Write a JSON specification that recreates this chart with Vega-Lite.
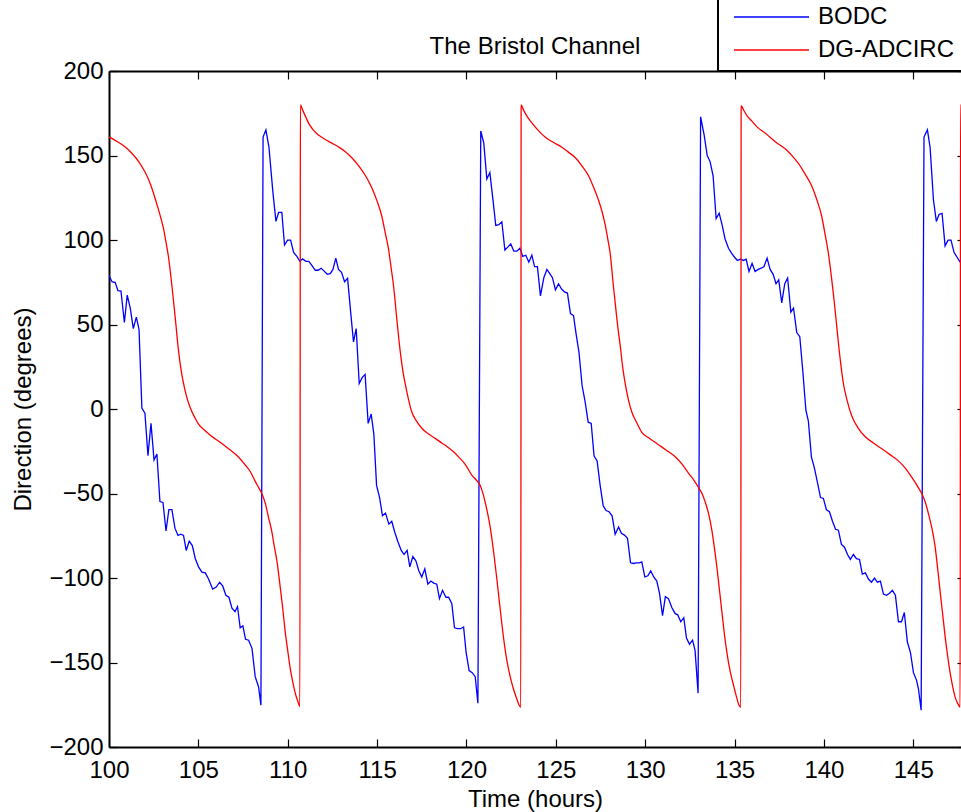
{
"$schema": "https://vega.github.io/schema/vega-lite/v6.json",
"autosize": {"type": "none"},
"padding": {"left": 109, "top": 71, "right": 0, "bottom": 65},
"width": 852,
"height": 676,
"background": "white",
"title": {"text": "The Bristol Channel", "font": "Liberation Sans", "fontSize": 24, "fontWeight": "normal", "color": "black", "anchor": "middle", "frame": "group", "baseline": "alphabetic", "offset": 17, "dy": 100},
"datasets": {
"bodc": [
{"t":100.0,"v":79},{"t":100.17,"v":75.3},{"t":100.35,"v":74.8},{"t":100.5,"v":70},{"t":100.67,"v":69.8},{"t":100.86,"v":51.2},{"t":101.02,"v":67.4},{"t":101.19,"v":59.7},{"t":101.36,"v":47.6},{"t":101.53,"v":54.4},{"t":101.68,"v":47.1},{"t":101.84,"v":0.6},{"t":102.01,"v":-2.5},{"t":102.18,"v":-27.6},{"t":102.35,"v":-8.5},{"t":102.52,"v":-30.2},{"t":102.68,"v":-26.6},{"t":102.85,"v":-54.8},{"t":103.02,"v":-55.3},{"t":103.19,"v":-72.2},{"t":103.35,"v":-59.6},{"t":103.52,"v":-59.6},{"t":103.69,"v":-70.5},{"t":103.86,"v":-74.8},{"t":104.02,"v":-74.1},{"t":104.17,"v":-74.8},{"t":104.32,"v":-83.7},{"t":104.49,"v":-78.2},{"t":104.66,"v":-80.8},{"t":104.83,"v":-88.6},{"t":105.01,"v":-93.4},{"t":105.2,"v":-96.5},{"t":105.39,"v":-97},{"t":105.57,"v":-100.6},{"t":105.8,"v":-106.6},{"t":106.0,"v":-105.4},{"t":106.19,"v":-102.5},{"t":106.36,"v":-104.7},{"t":106.54,"v":-110.2},{"t":106.71,"v":-111.4},{"t":106.88,"v":-117.9},{"t":107.05,"v":-119.9},{"t":107.19,"v":-117},{"t":107.34,"v":-129.5},{"t":107.49,"v":-128.3},{"t":107.64,"v":-136.3},{"t":107.81,"v":-136.8},{"t":108.0,"v":-141.6},{"t":108.18,"v":-158.4},{"t":108.37,"v":-164.5},{"t":108.5,"v":-175.3},
{"t":108.62,"v":160.9},{"t":108.78,"v":165.2},{"t":108.95,"v":154.9},{"t":109.17,"v":128.3},{"t":109.34,"v":111},{"t":109.49,"v":116.3},{"t":109.67,"v":116.3},{"t":109.82,"v":97},{"t":109.99,"v":99.9},{"t":110.16,"v":99.9},{"t":110.33,"v":92.7},{"t":110.51,"v":90.3},{"t":110.68,"v":87.4},{"t":110.83,"v":88.8},{"t":111.02,"v":87.4},{"t":111.18,"v":87.4},{"t":111.35,"v":85},{"t":111.54,"v":82.1},{"t":111.7,"v":82.1},{"t":111.87,"v":83.3},{"t":112.04,"v":81.6},{"t":112.21,"v":79.7},{"t":112.38,"v":80.1},{"t":112.53,"v":82.6},{"t":112.69,"v":89.3},{"t":112.84,"v":82.6},{"t":113.01,"v":80.9},{"t":113.18,"v":75.3},{"t":113.35,"v":77.3},{"t":113.51,"v":58.5},{"t":113.68,"v":39.7},{"t":113.83,"v":47.6},{"t":114.0,"v":15.1},{"t":114.17,"v":18.7},{"t":114.33,"v":20.4},{"t":114.5,"v":-8.5},{"t":114.67,"v":-3},{"t":114.82,"v":-15},{"t":114.97,"v":-45.2},{"t":115.14,"v":-52.4},{"t":115.3,"v":-63.2},{"t":115.47,"v":-61.6},{"t":115.66,"v":-68.1},{"t":115.82,"v":-66.4},{"t":115.99,"v":-72.9},{"t":116.16,"v":-78.4},{"t":116.35,"v":-83.7},{"t":116.51,"v":-86.1},{"t":116.68,"v":-83.7},{"t":116.83,"v":-93.4},{"t":117.0,"v":-87.3},{"t":117.17,"v":-89.8},{"t":117.34,"v":-95.8},{"t":117.5,"v":-99.4},{"t":117.67,"v":-94.6},{"t":117.84,"v":-103.6},{"t":118.01,"v":-101.8},{"t":118.17,"v":-103},{"t":118.34,"v":-103.7},{"t":118.49,"v":-112.2},{"t":118.66,"v":-107.3},{"t":118.85,"v":-111.4},{"t":119.0,"v":-111.4},{"t":119.18,"v":-115},{"t":119.33,"v":-129.5},{"t":119.5,"v":-130},{"t":119.67,"v":-130},{"t":119.84,"v":-129},{"t":119.98,"v":-144},{"t":120.15,"v":-154.8},{"t":120.32,"v":-156},{"t":120.49,"v":-158.4},{"t":120.64,"v":-174.1},
{"t":120.8,"v":164.5},{"t":120.97,"v":157.3},{"t":121.14,"v":136.1},{"t":121.31,"v":139.9},{"t":121.48,"v":124},{"t":121.64,"v":108.6},{"t":121.81,"v":109.1},{"t":121.98,"v":110.8},{"t":122.15,"v":94.1},{"t":122.31,"v":95.8},{"t":122.48,"v":97.7},{"t":122.65,"v":93.4},{"t":122.82,"v":93.4},{"t":122.99,"v":95.1},{"t":123.15,"v":90.3},{"t":123.32,"v":91},{"t":123.49,"v":86.9},{"t":123.66,"v":91},{"t":123.81,"v":84.2},{"t":123.97,"v":84.2},{"t":124.14,"v":66.9},{"t":124.33,"v":77.7},{"t":124.5,"v":82.6},{"t":124.66,"v":80.1},{"t":124.81,"v":77.7},{"t":124.98,"v":70.5},{"t":125.15,"v":74.1},{"t":125.32,"v":71},{"t":125.48,"v":69.3},{"t":125.65,"v":68.6},{"t":125.82,"v":56.5},{"t":125.99,"v":55.3},{"t":126.14,"v":44},{"t":126.3,"v":33.2},{"t":126.47,"v":13.9},{"t":126.64,"v":4.2},{"t":126.81,"v":-7.8},{"t":126.98,"v":-8.5},{"t":127.14,"v":-27.8},{"t":127.31,"v":-30.7},{"t":127.48,"v":-45.2},{"t":127.65,"v":-57.2},{"t":127.81,"v":-60.1},{"t":127.98,"v":-60.8},{"t":128.15,"v":-63.2},{"t":128.32,"v":-74.1},{"t":128.51,"v":-69.8},{"t":128.67,"v":-73.6},{"t":128.84,"v":-74.6},{"t":129.01,"v":-76.5},{"t":129.18,"v":-91},{"t":129.35,"v":-91.4},{"t":129.51,"v":-91},{"t":129.68,"v":-91},{"t":129.81,"v":-90.5},{"t":129.98,"v":-99.4},{"t":130.15,"v":-98.7},{"t":130.31,"v":-95.8},{"t":130.48,"v":-99.4},{"t":130.65,"v":-101.8},{"t":130.8,"v":-109},{"t":130.97,"v":-122.3},{"t":131.13,"v":-111},{"t":131.3,"v":-112.2},{"t":131.49,"v":-117.5},{"t":131.68,"v":-121.1},{"t":131.82,"v":-121.8},{"t":131.99,"v":-125.9},{"t":132.16,"v":-123.5},{"t":132.31,"v":-135.5},{"t":132.48,"v":-139.2},{"t":132.65,"v":-136.8},{"t":132.79,"v":-142.8},{"t":132.96,"v":-168.1},
{"t":133.1,"v":172.9},{"t":133.3,"v":162.1},{"t":133.47,"v":150},{"t":133.63,"v":146.4},{"t":133.8,"v":138},{"t":133.97,"v":112.7},{"t":134.14,"v":115.8},{"t":134.3,"v":109.1},{"t":134.47,"v":100.6},{"t":134.66,"v":95.1},{"t":134.83,"v":92.2},{"t":135.0,"v":89.8},{"t":135.16,"v":87.9},{"t":135.33,"v":88.6},{"t":135.5,"v":87.9},{"t":135.65,"v":88.6},{"t":135.81,"v":81.4},{"t":135.98,"v":86.2},{"t":136.15,"v":81.4},{"t":136.32,"v":82.6},{"t":136.49,"v":83.3},{"t":136.65,"v":84.3},{"t":136.82,"v":89.3},{"t":136.99,"v":82.6},{"t":137.16,"v":79.7},{"t":137.32,"v":74.1},{"t":137.47,"v":76.5},{"t":137.64,"v":62.8},{"t":137.81,"v":74.1},{"t":137.97,"v":77.5},{"t":138.15,"v":57.3},{"t":138.3,"v":59.7},{"t":138.48,"v":45.2},{"t":138.65,"v":42.8},{"t":138.82,"v":22.3},{"t":138.99,"v":-0.6},{"t":139.13,"v":-7.1},{"t":139.3,"v":-28.3},{"t":139.47,"v":-35},{"t":139.64,"v":-43.5},{"t":139.81,"v":-52.4},{"t":139.97,"v":-52.9},{"t":140.14,"v":-59.6},{"t":140.31,"v":-60.8},{"t":140.48,"v":-66.4},{"t":140.65,"v":-71.2},{"t":140.81,"v":-71.7},{"t":140.98,"v":-80.1},{"t":141.15,"v":-81.8},{"t":141.32,"v":-86.1},{"t":141.48,"v":-89},{"t":141.65,"v":-86.1},{"t":141.82,"v":-88.5},{"t":141.99,"v":-89},{"t":142.15,"v":-97.7},{"t":142.32,"v":-97},{"t":142.49,"v":-100.6},{"t":142.66,"v":-102.5},{"t":142.83,"v":-100.1},{"t":142.99,"v":-102.5},{"t":143.16,"v":-101.8},{"t":143.33,"v":-109.5},{"t":143.5,"v":-110.2},{"t":143.67,"v":-109},{"t":143.83,"v":-107.3},{"t":144.0,"v":-110.2},{"t":144.17,"v":-125.9},{"t":144.34,"v":-125.9},{"t":144.5,"v":-120.4},{"t":144.67,"v":-137.9},{"t":144.84,"v":-144},{"t":145.01,"v":-156},{"t":145.18,"v":-160.4},{"t":145.29,"v":-165.7},{"t":145.44,"v":-178.2},
{"t":145.6,"v":160.9},{"t":145.79,"v":165.2},{"t":145.94,"v":154.9},{"t":146.13,"v":123.5},{"t":146.29,"v":111},{"t":146.44,"v":115.1},{"t":146.61,"v":115.8},{"t":146.78,"v":96.5},{"t":146.95,"v":99.9},{"t":147.11,"v":99.9},{"t":147.28,"v":92.7},{"t":147.45,"v":89.8},{"t":147.62,"v":86.9}
],
"adcirc": [
{"t":100.0,"v":161},{"t":100.5,"v":158},{"t":100.91,"v":155},{"t":101.3,"v":151},{"t":101.66,"v":146.4},{"t":102.0,"v":140.5},{"t":102.22,"v":135.6},{"t":102.45,"v":129},{"t":102.68,"v":121.1},{"t":102.9,"v":113},{"t":103.05,"v":106.7},{"t":103.2,"v":98},{"t":103.33,"v":89.8},{"t":103.52,"v":72.9},{"t":103.71,"v":53.6},{"t":103.89,"v":34.4},{"t":104.05,"v":22},{"t":104.17,"v":15.1},{"t":104.35,"v":7},{"t":104.55,"v":0.6},{"t":104.8,"v":-5},{"t":105.01,"v":-9},{"t":105.4,"v":-13},{"t":105.76,"v":-16.3},{"t":106.2,"v":-19.5},{"t":106.69,"v":-23.5},{"t":107.2,"v":-28},{"t":107.62,"v":-33.1},{"t":107.9,"v":-37},{"t":108.18,"v":-42.8},{"t":108.4,"v":-47},{"t":108.55,"v":-50},{"t":108.75,"v":-56},{"t":108.93,"v":-64.4},{"t":109.1,"v":-72},{"t":109.21,"v":-78.9},{"t":109.41,"v":-91},{"t":109.58,"v":-105.4},{"t":109.72,"v":-118},{"t":109.86,"v":-131.9},{"t":110.0,"v":-143},{"t":110.14,"v":-153.6},{"t":110.28,"v":-161.5},{"t":110.42,"v":-168.1},{"t":110.55,"v":-172.5},{"t":110.68,"v":-176},
{"t":110.71,"v":180},{"t":110.83,"v":177},{"t":111.0,"v":173},{"t":111.16,"v":169.3},{"t":111.4,"v":165.5},{"t":111.72,"v":162.1},{"t":112.1,"v":159.5},{"t":112.47,"v":157.3},{"t":112.85,"v":155},{"t":113.21,"v":152.4},{"t":113.6,"v":148.5},{"t":113.96,"v":144},{"t":114.35,"v":138},{"t":114.71,"v":130.8},{"t":115.0,"v":123},{"t":115.27,"v":113.9},{"t":115.46,"v":104},{"t":115.64,"v":94.6},{"t":115.78,"v":84},{"t":115.92,"v":72.9},{"t":116.1,"v":53.6},{"t":116.29,"v":34.4},{"t":116.45,"v":22},{"t":116.57,"v":15.1},{"t":116.75,"v":6},{"t":116.94,"v":-1.8},{"t":117.2,"v":-7},{"t":117.5,"v":-11.4},{"t":117.9,"v":-15},{"t":118.25,"v":-17.4},{"t":118.6,"v":-20},{"t":118.92,"v":-22.3},{"t":119.25,"v":-25},{"t":119.56,"v":-28.3},{"t":119.95,"v":-33},{"t":120.3,"v":-39.1},{"t":120.55,"v":-42},{"t":120.77,"v":-45.2},{"t":120.95,"v":-51},{"t":121.14,"v":-59.6},{"t":121.28,"v":-67},{"t":121.42,"v":-76.5},{"t":121.56,"v":-88},{"t":121.7,"v":-100.6},{"t":121.84,"v":-114},{"t":121.98,"v":-127.1},{"t":122.12,"v":-139},{"t":122.26,"v":-148.8},{"t":122.45,"v":-158.5},{"t":122.63,"v":-165.7},{"t":122.8,"v":-171},{"t":122.95,"v":-175.3},{"t":123.04,"v":-176.5},
{"t":123.06,"v":180},{"t":123.19,"v":177},{"t":123.4,"v":173},{"t":123.66,"v":169.3},{"t":124.0,"v":165},{"t":124.4,"v":160.9},{"t":124.85,"v":157.8},{"t":125.34,"v":154.9},{"t":125.7,"v":152},{"t":126.08,"v":148.8},{"t":126.45,"v":144},{"t":126.83,"v":138},{"t":127.1,"v":131.5},{"t":127.39,"v":123.5},{"t":127.58,"v":117},{"t":127.76,"v":109.1},{"t":127.9,"v":101},{"t":128.04,"v":92.2},{"t":128.13,"v":83},{"t":128.22,"v":72.9},{"t":128.32,"v":63},{"t":128.43,"v":52},{"t":128.62,"v":36},{"t":128.75,"v":24},{"t":128.88,"v":15.1},{"t":129.05,"v":6},{"t":129.25,"v":-1.8},{"t":129.5,"v":-7.5},{"t":129.81,"v":-13.8},{"t":130.25,"v":-17.5},{"t":130.74,"v":-21.1},{"t":131.2,"v":-24.5},{"t":131.68,"v":-28.3},{"t":132.05,"v":-32.5},{"t":132.42,"v":-37.9},{"t":132.75,"v":-42.5},{"t":132.98,"v":-46.4},{"t":133.18,"v":-50},{"t":133.35,"v":-54.8},{"t":133.55,"v":-62},{"t":133.73,"v":-71.7},{"t":133.87,"v":-82},{"t":134.01,"v":-93.4},{"t":134.15,"v":-106.5},{"t":134.29,"v":-119.9},{"t":134.43,"v":-133},{"t":134.57,"v":-144},{"t":134.75,"v":-155},{"t":134.94,"v":-163.3},{"t":135.1,"v":-170},{"t":135.25,"v":-175.3},{"t":135.35,"v":-176.5},
{"t":135.37,"v":179.5},{"t":135.5,"v":177},{"t":135.7,"v":173.5},{"t":135.96,"v":170.5},{"t":136.3,"v":166.5},{"t":136.71,"v":163.3},{"t":137.3,"v":158},{"t":137.94,"v":153},{"t":138.25,"v":149.5},{"t":138.58,"v":145.2},{"t":138.95,"v":139},{"t":139.32,"v":132},{"t":139.6,"v":124},{"t":139.88,"v":113.9},{"t":140.07,"v":103},{"t":140.25,"v":92.2},{"t":140.4,"v":80},{"t":140.53,"v":68.1},{"t":140.67,"v":54},{"t":140.81,"v":39.2},{"t":140.95,"v":26},{"t":141.09,"v":15.1},{"t":141.3,"v":5},{"t":141.56,"v":-4.2},{"t":141.9,"v":-11},{"t":142.3,"v":-16.3},{"t":142.75,"v":-20},{"t":143.24,"v":-23.5},{"t":143.7,"v":-27},{"t":144.17,"v":-30.7},{"t":144.55,"v":-35},{"t":144.91,"v":-40.3},{"t":145.2,"v":-45},{"t":145.47,"v":-50},{"t":145.67,"v":-55},{"t":145.85,"v":-62},{"t":146.05,"v":-71},{"t":146.22,"v":-81.3},{"t":146.36,"v":-94},{"t":146.5,"v":-107.8},{"t":146.64,"v":-121},{"t":146.78,"v":-134.4},{"t":146.92,"v":-146},{"t":147.06,"v":-156},{"t":147.2,"v":-164},{"t":147.34,"v":-170.5},{"t":147.5,"v":-174.5},{"t":147.62,"v":-176.5},
{"t":147.65,"v":180},{"t":147.72,"v":178}
]
},
"layer": [
{
"data": {"name": "bodc"},
"mark": {"type": "line", "strokeWidth": 1.3, "clip": true},
"encoding": {
"x": {"field": "t", "type": "quantitative", "scale": {"domain": [100, 147.67], "nice": false, "zero": false},
"axis": {"orient": "bottom", "values": [100,105,110,115,120,125,130,135,140,145], "title": "Time (hours)", "labelPadding": 19, "titlePadding": 5, "labelFlush": false}},
"y": {"field": "v", "type": "quantitative", "scale": {"domain": [-200, 200], "nice": false, "zero": false},
"axis": {"orient": "left", "values": [-200,-150,-100,-50,0,50,100,150,200], "title": "Direction (degrees)", "labelPadding": 14, "titlePadding": 13, "labelFlush": false}},
"color": {"datum": "BODC", "type": "nominal", "scale": {"domain": ["BODC", "DG-ADCIRC"], "range": ["#0000ff", "#ff0000"]},
"legend": {"orient": "none", "legendX": 609, "legendY": -75, "title": null, "direction": "vertical"}}
}
},
{
"data": {"name": "adcirc"},
"mark": {"type": "line", "strokeWidth": 1.3, "interpolate": "monotone", "clip": true},
"encoding": {
"x": {"field": "t", "type": "quantitative", "axis": null},
"y": {"field": "v", "type": "quantitative", "axis": null},
"color": {"datum": "DG-ADCIRC", "type": "nominal"}
}
},
{
"data": {"name": "adcirc"},
"mark": {"type": "point", "opacity": 0, "size": 0},
"encoding": {
"x": {"field": "t", "type": "quantitative", "axis": {"orient": "top", "values": [100,105,110,115,120,125,130,135,140,145], "labels": false, "title": null}},
"y": {"field": "v", "type": "quantitative", "axis": {"orient": "right", "values": [-200,-150,-100,-50,0,50,100,150,200], "labels": false, "title": null, "domain": false, "offset": 4}}
}
}
],
"resolve": {"axis": {"x": "independent", "y": "independent"}},
"config": {
"view": {"stroke": null},
"axis": {"labelFont": "Liberation Sans", "labelFontSize": 24, "labelColor": "black", "titleFont": "Liberation Sans", "titleFontSize": 24, "titleFontWeight": "normal", "titleColor": "black", "domainColor": "black", "domainWidth": 2, "tickColor": "black", "tickWidth": 1.2, "tickSize": -8, "grid": false},
"legend": {"symbolType": "stroke", "symbolSize": 5625, "symbolStrokeWidth": 1.3, "symbolOffset": 6, "labelOffset": 8, "labelFont": "Liberation Sans", "labelFontSize": 24, "labelColor": "black", "labelLimit": 300, "padding": 9, "rowPadding": 9, "clipHeight": 24, "strokeColor": "black", "strokeWidth": 2, "fillColor": "white"}
}
}
